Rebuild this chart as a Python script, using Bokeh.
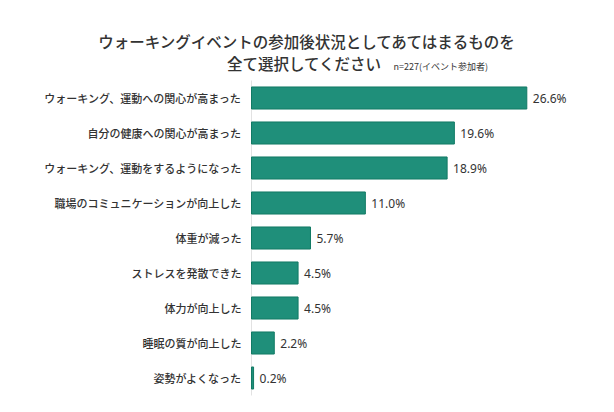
from bokeh.plotting import figure
from bokeh.models import ColumnDataSource, Range1d
from bokeh.core.properties import value
from bokeh.embed import file_html
from bokeh.resources import INLINE

categories = [
    "ウォーキング、運動への関心が高まった",
    "自分の健康への関心が高まった",
    "ウォーキング、運動をするようになった",
    "職場のコミュニケーションが向上した",
    "体重が減った",
    "ストレスを発散できた",
    "体力が向上した",
    "睡眠の質が向上した",
    "姿勢がよくなった",
]
values = [26.6, 19.6, 18.9, 11.0, 5.7, 4.5, 4.5, 2.2, 0.2]
value_labels = ["26.6%", "19.6%", "18.9%", "11.0%", "5.7%", "4.5%", "4.5%", "2.2%", "0.2%"]
title_line1 = "ウォーキングイベントの参加後状況としてあてはまるものを"
title_line2 = "全て選択してください"
note = "n=227(イベント参加者)"

W, H = 614, 412
X0 = 251          # pixel of the value axis origin
SCALE = 10.35     # pixels per percentage point
TOP = 97.5        # pixel centre of the first row
PITCH = 35        # pixels between rows

def px_x(pix):
    return (pix - X0) / SCALE

def px_y(pix):
    return (pix - TOP) / PITCH

FONT = "Noto Sans CJK JP"
FONT_MED = "'Noto Sans CJK JP Medium', 'Noto Sans CJK JP'"

rows = list(range(len(categories)))
src = ColumnDataSource(dict(cat=categories, val=values, lab=value_labels, row=rows))

p = figure(
    x_range=Range1d(px_x(0), px_x(W)),
    y_range=Range1d(px_y(H), px_y(0)),
    width=W, height=H,
    output_backend="svg", toolbar_location=None,
    min_border=0, min_border_left=0, min_border_right=0,
    min_border_top=0, min_border_bottom=0,
)
p.outline_line_color = None
p.background_fill_color = "white"
p.border_fill_color = "white"
p.grid.visible = False
p.axis.visible = False

# value axis baseline
p.segment(x0=[0], y0=[-0.5], x1=[0], y1=[len(categories) - 0.5],
          line_color="#e2e2e2", line_width=1)

p.hbar(y="row", right="val", left=0, height=0.63, source=src,
       fill_color="#1f8f7a", line_color="#127a65", line_width=1)

p.text(x="val", y="row", text="lab", source=src, x_offset=6,
       text_baseline="middle", text_align="left",
       text_font=value("Noto Sans"), text_font_size="12px", text_color="#333333")

p.text(x=0, y="row", text="cat", source=src, x_offset=-10,
       text_baseline="middle", text_align="right",
       text_font=value(FONT_MED), text_font_size="11px", text_color="#333333")

# titles
p.text(x=[px_x(307)], y=[px_y(40)], text=[title_line1],
       text_baseline="middle", text_align="center",
       text_font=value(FONT_MED), text_font_size="15.5px",
       text_color="#333333")
p.text(x=[px_x(304)], y=[px_y(62)], text=[title_line2],
       text_baseline="middle", text_align="center",
       text_font=value(FONT_MED), text_font_size="15.5px",
       text_color="#333333")
p.text(x=[px_x(393)], y=[px_y(65.5)], text=[note],
       text_baseline="middle", text_align="left",
       text_font=value(FONT), text_font_size="9px",
       text_color="#333333")

open("out.html", "w").write(file_html(p, INLINE))
